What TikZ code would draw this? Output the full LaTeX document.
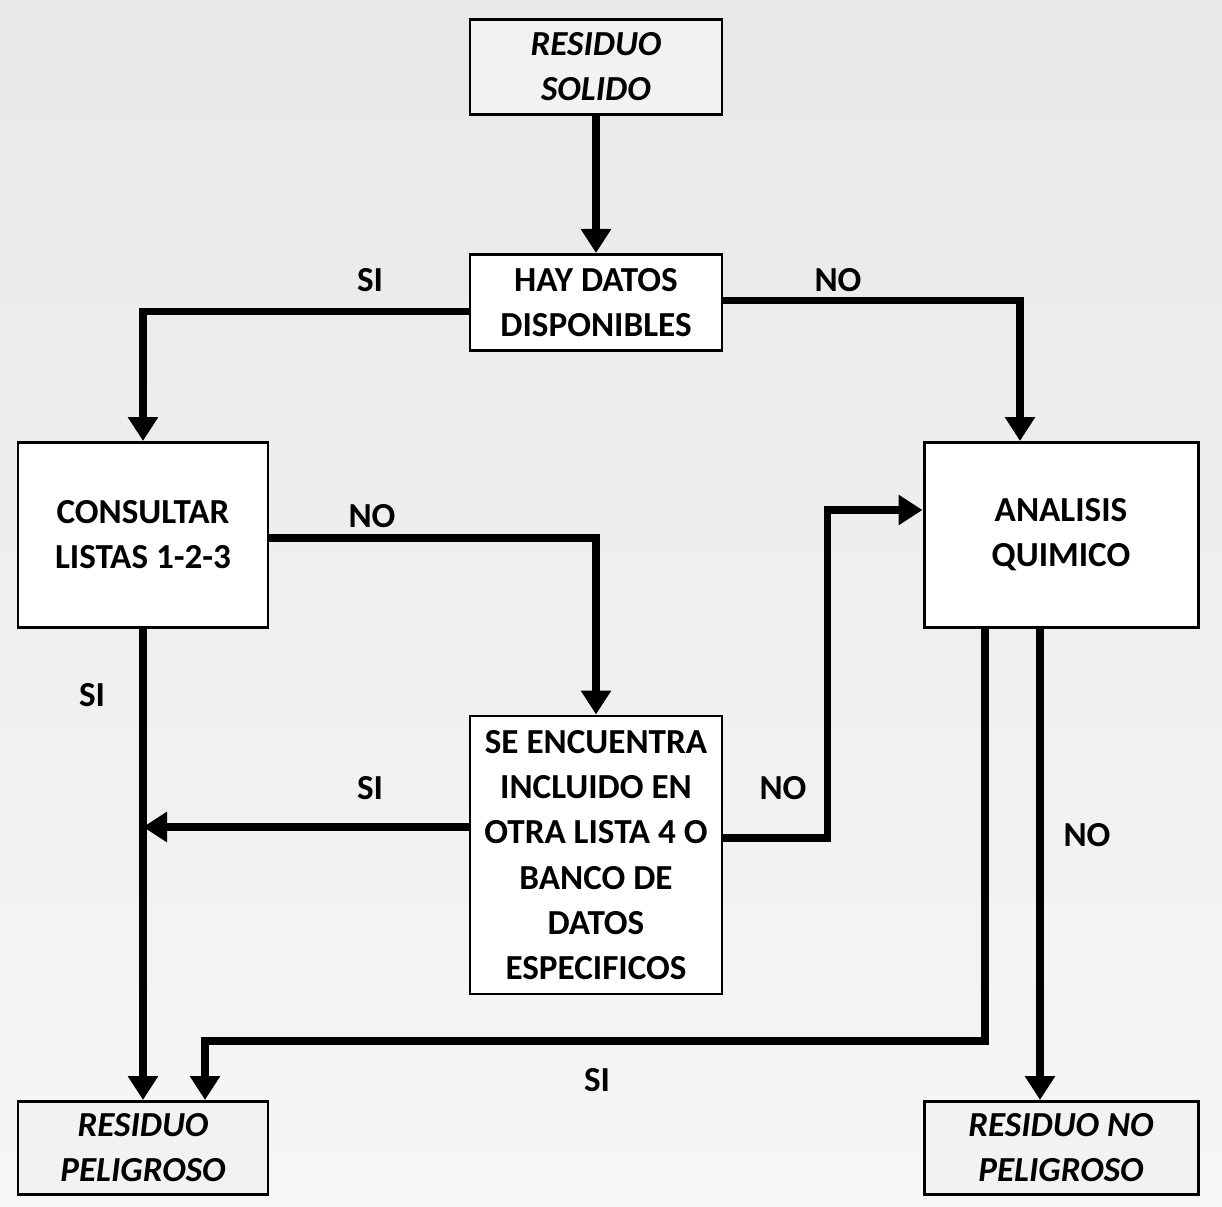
\documentclass[tikz,border=0pt]{standalone}
\usepackage{fontspec}
\setmainfont{Carlito}
\usepackage{tikz}
\usetikzlibrary{arrows.meta}
\usetikzlibrary{positioning}
\usetikzlibrary{calc}
\newcommand{\letra}{\fontsize{20}{25.6}\selectfont}

\begin{document}
\begin{tikzpicture}
	\tikzstyle{caja}=[draw,line width=1.7pt,fill=white,align=center,inner sep=0pt,font=\letra\bfseries]
	\tikzstyle{fin}=[caja,fill=gray!10,font=\letra\bfseries\itshape]
	\tikzstyle{etiq}=[font=\letra\bfseries,inner sep=0pt]
	\tikzstyle{flecha}=[-{Triangle[length=0.48cm,width=0.58cm]},line width=4pt]

	% fondo
	\fill[top color=gray!18,middle color=white,bottom color=gray!7] (0,0) rectangle (24.44,-24.14);
	\useasboundingbox (0,0) rectangle (24.44,-24.14);

	\node (sol) [fin,minimum width=5.04cm,minimum height=1.9cm] at (11.92,-1.34) {RESIDUO\\SOLIDO};
	\node (hay) [caja,minimum width=5.04cm,minimum height=1.92cm,below=2.74cm of sol] {HAY DATOS\\DISPONIBLES};
	\node (cons) [caja,minimum width=5cm,minimum height=3.7cm] at (2.86,-10.7) {CONSULTAR\\LISTAS 1-2-3};
	\node (ana) [caja,minimum width=5.48cm,minimum height=3.7cm] at (21.22,-10.7) {ANALISIS\\QUIMICO};
	\node (enc) [caja,minimum width=5.04cm,minimum height=5.56cm,font=\fontsize{20}{25.8}\selectfont\bfseries] at (11.92,-17.1)
		{SE ENCUENTRA\\INCLUIDO EN\\OTRA LISTA 4 O\\BANCO DE\\DATOS\\ESPECIFICOS};
	\node (pel) [fin,minimum width=5cm,minimum height=1.86cm] at (2.86,-22.96) {RESIDUO\\PELIGROSO};
	\node (nopel) [fin,minimum width=5.48cm,minimum height=1.86cm] at (21.22,-22.96) {RESIDUO NO\\PELIGROSO};

	% etiquetas
	\node (si1) [etiq] at (7.4,-5.6) {SI};
	\node (no1) [etiq] at (16.76,-5.6) {NO};
	\node (no2) [etiq] at (7.44,-10.32) {NO};
	\node (si2) [etiq] at (1.84,-13.9) {SI};
	\node (si3) [etiq] at (7.4,-15.76) {SI};
	\node (no3) [etiq] at (15.66,-15.76) {NO};
	\node (no4) [etiq] at (21.74,-16.7) {NO};
	\node (si4) [etiq] at (11.94,-21.6) {SI};

	\path[flecha]
	(sol) edge (hay)
	(cons) edge (pel);
	\draw[flecha] ([yshift=-0.18cm]hay.west) -| (cons.north);
	\draw[flecha] ([yshift=0.04cm]hay.east) -| ([xshift=-0.82cm]ana.north);
	\draw[flecha] ([yshift=-0.06cm]cons.east) -| (enc.north);
	\draw[flecha] ([yshift=0.56cm]enc.west) -- ([yshift=0.56cm]enc.west -| cons.south);
	\draw[flecha] ([yshift=0.34cm]enc.east) -- ++(2.08,0) |- ([yshift=0.5cm]ana.west);
	\draw[flecha] ([xshift=-1.52cm]ana.south) -- ++(0,-8.24) -| ([xshift=1.24cm]pel.north);
	\draw[flecha] ([xshift=-0.42cm]ana.south) -- ([xshift=-0.42cm]nopel.north);

\end{tikzpicture}
\end{document}
